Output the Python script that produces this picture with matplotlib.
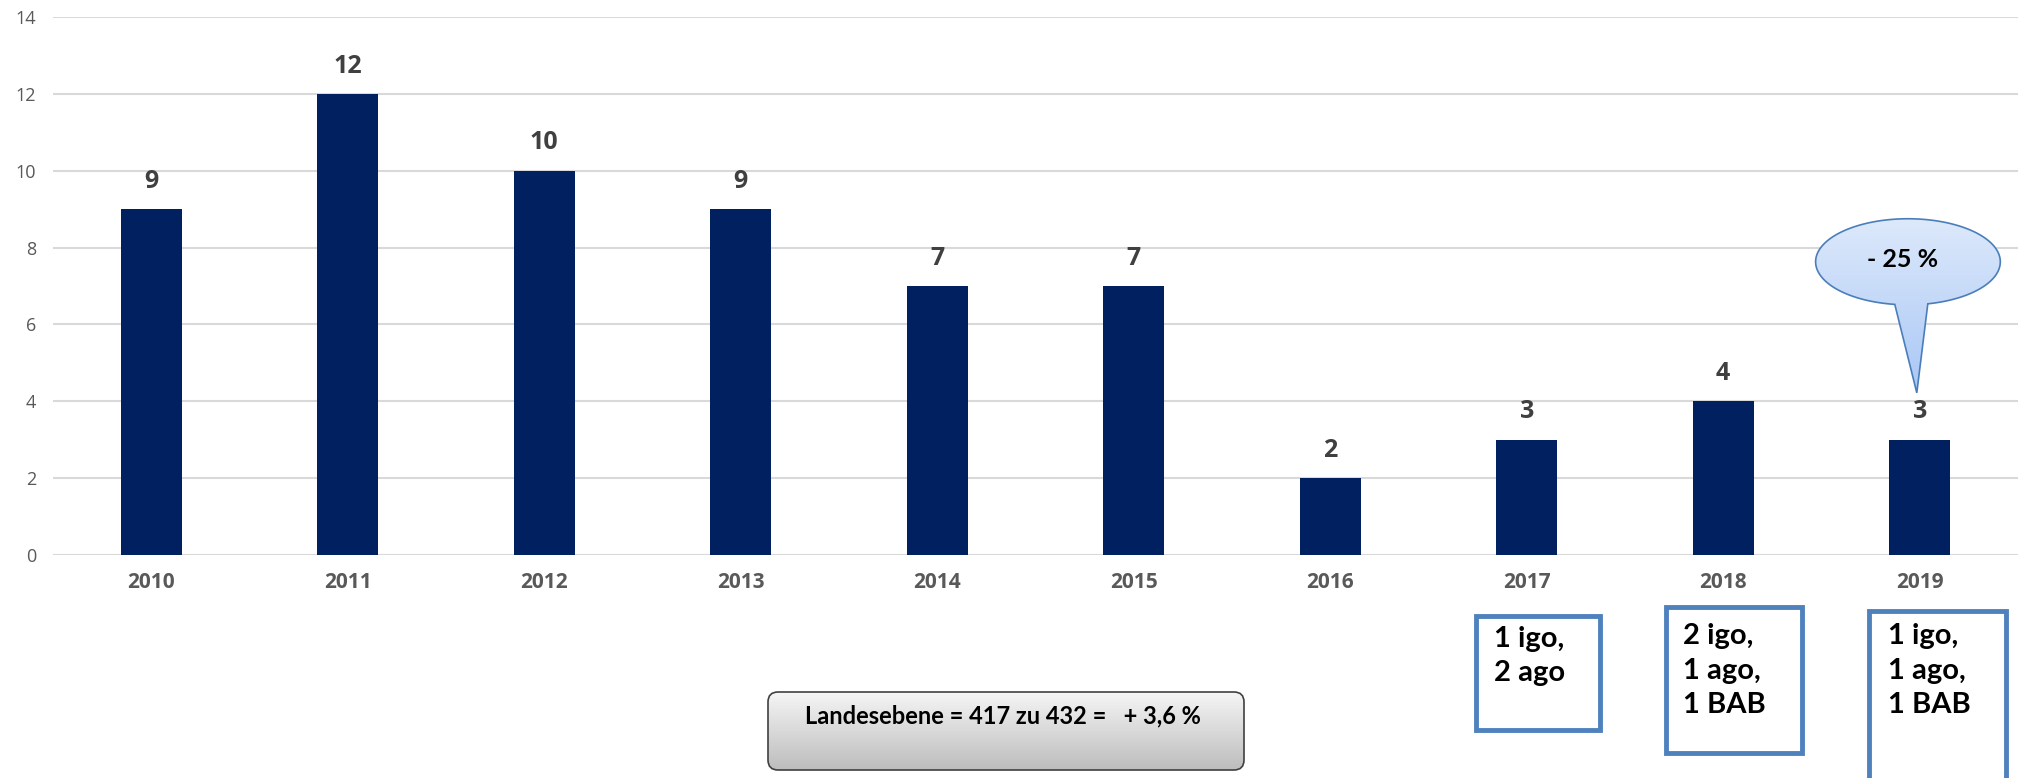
import numpy as np
import matplotlib
matplotlib.use("Agg")
import matplotlib.pyplot as plt
import matplotlib.patches as patches
from matplotlib.path import Path

# Daten
jahre = ["2010", "2011", "2012", "2013", "2014", "2015", "2016", "2017", "2018", "2019"]
anzahl = [9, 12, 10, 9, 7, 7, 2, 3, 4, 3]
notiz_2017 = ["1 igo,", "2 ago"]
notiz_2018 = ["2 igo,", "1 ago,", "1 BAB"]
notiz_2019 = ["1 igo,", "1 ago,", "1 BAB"]
blase_text = "- 25 %"
landes_text = "Landesebene = 417 zu 432 =   + 3,6 %"

W, H = 2025, 778
fig = plt.figure(figsize=(W / 100, H / 100), dpi=100)
ax = fig.add_axes([53 / W, 223 / H, 1965 / W, 538 / H])

x = np.arange(len(jahre))
ax.bar(x, anzahl, width=0.31, color="#002060", zorder=3)
for xi, v in zip(x, anzahl):
    ax.annotate(str(v), (xi, v), xytext=(0, 20), textcoords="offset points",
                ha="center", va="center", fontsize=18, fontweight="bold",
                color="#404040", family="Open Sans")

ax.set_xlim(-0.5, len(jahre) - 0.5)
ax.set_ylim(0, 14)
ax.set_yticks(range(0, 15, 2))
ax.set_xticks(x)
ax.set_xticklabels(jahre, fontsize=15, fontweight="bold", color="#595959", family="Open Sans")
for lab in ax.get_yticklabels():
    lab.set_fontsize(13)
    lab.set_color("#595959")
    lab.set_family("Open Sans")
ax.tick_params(axis="both", length=0)
ax.tick_params(axis="x", pad=12)
ax.tick_params(axis="y", pad=12)
ax.grid(axis="y", color="#d9d9d9", linewidth=1.5, zorder=0)
for s in ax.spines.values():
    s.set_visible(False)

# Sprechblase über 2019
cx, cy, a, b = 8.94, 7.63, 0.47, 1.12
tl, tr, tip = 8.873, 9.041, (8.985, 4.22)
t_right = -np.arccos((tr - cx) / a)
t_left = -np.arccos((tl - cx) / a) + 2 * np.pi
t = np.linspace(t_right, t_left, 200)
verts = list(zip(cx + a * np.cos(t), cy + b * np.sin(t))) + [tip, (cx + a * np.cos(t_right), cy + b * np.sin(t_right))]
codes = [Path.MOVETO] + [Path.LINETO] * (len(verts) - 2) + [Path.CLOSEPOLY]
blase = patches.PathPatch(Path(verts, codes), facecolor="none", edgecolor="#4a7ebb",
                          linewidth=1.2, zorder=6)
ax.add_patch(blase)
grad = np.linspace(0, 1, 100).reshape(-1, 1)
cmap = matplotlib.colors.LinearSegmentedColormap.from_list("b", ["#dde9fb", "#a9c7f5"])
im = ax.imshow(grad, cmap=cmap, extent=[cx - a, cx + a, tip[1], cy + b],
               aspect="auto", origin="upper", zorder=5)
im.set_clip_path(blase)
ax.text(cx - 0.03, cy + 0.05, blase_text, ha="center", va="center", fontsize=18,
        fontweight="bold", family="Lato", zorder=7)
ax.set_xlim(-0.5, len(jahre) - 0.5)
ax.set_ylim(0, 14)

# Kästen unter dem Diagramm (Pixelkoordinaten)
ov = fig.add_axes([0, 0, 1, 1])
ov.set_xlim(0, W)
ov.set_ylim(H, 0)
ov.axis("off")

def kasten(x0, y0, x1, y1, zeilen, tx, ty):
    r = patches.Rectangle((x0, y0), x1 - x0, y1 - y0, facecolor="white",
                          edgecolor="#4f81bd", linewidth=3.5, clip_on=False)
    ov.add_patch(r)
    for i, z in enumerate(zeilen):
        ov.text(tx, ty + i * 34.5, z, ha="left", va="center", fontsize=21,
                fontweight="bold", family="Lato")

kasten(1476, 616, 1600, 730, notiz_2017, 1494, 639)
kasten(1666, 607, 1802, 753, notiz_2018, 1683, 636)
kasten(1869, 611, 2006, 795, notiz_2019, 1888, 636)

# Landesebene-Box mit Verlauf
gbox = patches.FancyBboxPatch((768, 692), 476, 78, boxstyle="round,pad=0,rounding_size=10",
                              facecolor="none", edgecolor="#404040", linewidth=1.2, zorder=3)
ov.add_patch(gbox)
gcmap = matplotlib.colors.LinearSegmentedColormap.from_list("g", ["#f5f5f5", "#bdbdbd"])
gim = ov.imshow(grad, cmap=gcmap, extent=[768, 1244, 770, 692], aspect="auto",
                origin="upper", zorder=2)
gim.set_clip_path(gbox)
ov.text(1003, 716, landes_text, ha="center", va="center", fontsize=17,
        fontweight="bold", family="Lato", zorder=4)
ov.set_xlim(0, W)
ov.set_ylim(H, 0)

fig.savefig("out.png", dpi=100)
